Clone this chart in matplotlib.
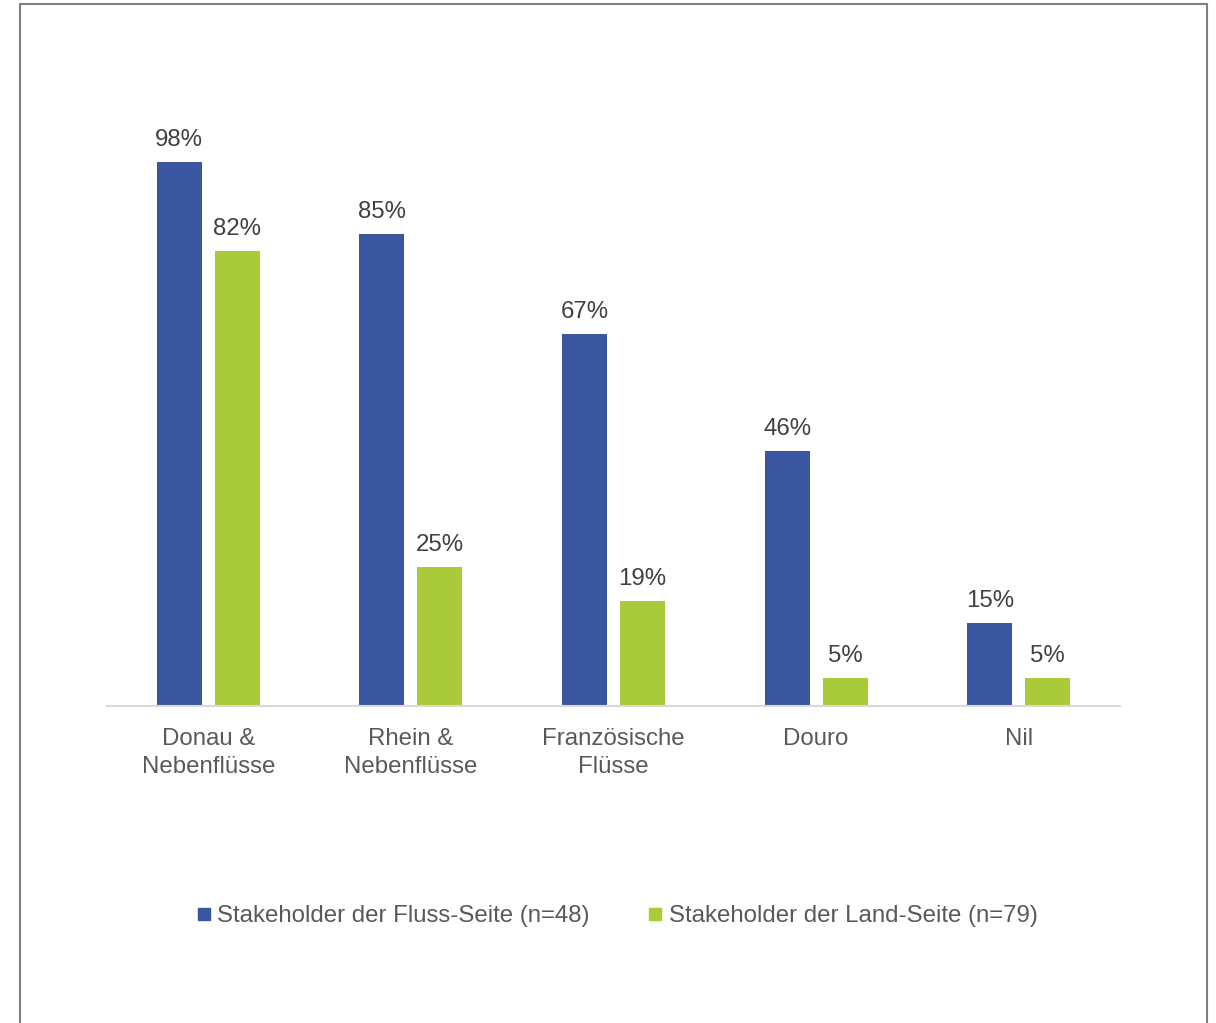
import matplotlib
matplotlib.use("Agg")
import matplotlib.pyplot as plt
import numpy as np
from matplotlib.patches import Rectangle
from matplotlib.lines import Line2D

categories = ["Donau &\nNebenflüsse", "Rhein &\nNebenflüsse", "Französische\nFlüsse", "Douro", "Nil"]
fluss = [98, 85, 67, 46, 15]
land = [82, 25, 19, 5, 5]
series_names = ["Stakeholder der Fluss-Seite (n=48)", "Stakeholder der Land-Seite (n=79)"]

BLUE = "#3A56A0"
GREEN = "#A9CB3A"
TXT = "#404040"
TXT2 = "#595959"
FS = 17.3

plt.rcParams['font.family'] = ['Liberation Sans', 'DejaVu Sans']

W, H = 1216, 1023
fig = plt.figure(figsize=(W / 100, H / 100), dpi=100)
ax = fig.add_axes([107 / W, 1 - 706 / H, (1120 - 107) / W, (706 - 151) / H])

x = np.arange(len(categories))
bw = 0.222
off = 0.143
b1 = ax.bar(x - off, fluss, bw, color=BLUE)
b2 = ax.bar(x + off, land, bw, color=GREEN)

for bars, vals in ((b1, fluss), (b2, land)):
    for r, v in zip(bars, vals):
        ax.annotate(f"{v}%", (r.get_x() + r.get_width() / 2, r.get_height()),
                    xytext=(0, 11.5), textcoords="offset points", ha="center", va="baseline",
                    fontsize=FS, color=TXT)

ax.set_xlim(-0.5, len(categories) - 0.5)
ax.set_ylim(0, 100)
ax.set_xticks(x)
ax.set_xticklabels(categories, fontsize=FS, color=TXT2, linespacing=1.32)
ax.tick_params(axis='x', length=0, pad=16)
ax.set_yticks([])
for s in ("top", "right", "left"):
    ax.spines[s].set_visible(False)
ax.spines["bottom"].set_color("#D9D9D9")
ax.spines["bottom"].set_linewidth(1.5)

handles = [Line2D([], [], marker='s', linestyle='none', markersize=8.8, color=c)
           for c in (BLUE, GREEN)]
leg = fig.legend(handles, series_names, loc="center", ncol=2, frameon=False,
                 bbox_to_anchor=(617 / W, 1 - 916 / H), fontsize=FS,
                 handlelength=0.6, handletextpad=0.25, columnspacing=2.45)
for t in leg.get_texts():
    t.set_color(TXT2)

border = Rectangle((20 / W, -0.05), (1207 - 20) / W, 1.05 - 4 / H, transform=fig.transFigure,
                   fill=False, edgecolor="#808080", linewidth=1.5, clip_on=False)
fig.patches.append(border)

fig.savefig("out.png", dpi=100)
